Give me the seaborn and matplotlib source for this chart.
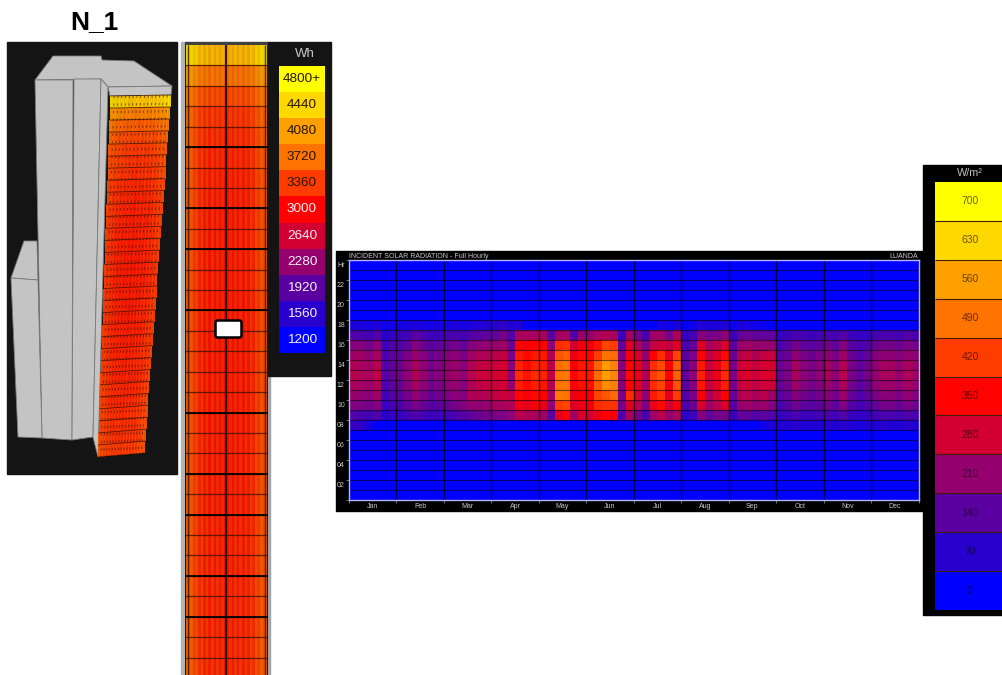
import numpy as np
import matplotlib
matplotlib.use("Agg")
import matplotlib.pyplot as plt
import seaborn as sns
from matplotlib.colors import LinearSegmentedColormap
from matplotlib.patches import FancyBboxPatch, Polygon, Rectangle

W = 1003
H = 675

months = ["Jan", "Feb", "Mar", "Apr", "May", "Jun", "Jul", "Aug", "Sep", "Oct", "Nov", "Dec"]
hour_labels = ["Hr", "22", "20", "18", "16", "14", "12", "10", "08", "06", "04", "02"]
wm2_levels = [700, 630, 560, 490, 420, 350, 280, 210, 140, 70, 0]
wh_levels = [4800, 4440, 4080, 3720, 3360, 3000, 2640, 2280, 1920, 1560, 1200]
wh_labels = ["4800+", "4440", "4080", "3720", "3360", "3000", "2640", "2280", "1920", "1560", "1200"]

# hourly radiation, 6 steps per month
hour_17 = [50, 50, 40, 50, 30, 30, 40, 40, 50, 40, 40, 40, 40, 50, 40, 50, 60, 60,
           70, 80, 60, 60, 0, 0, 0, 0, 0, 0, 0, 0, 0, 0, 0, 0, 0, 0,
           0, 0, 0, 40, 30, 50, 0, 30, 60, 50, 50, 60, 20, 50, 40, 30, 20, 0,
           0, 0, 0, 0, 0, 0, 0, 0, 0, 0, 0, 0, 0, 0, 0, 0, 0, 0]
hour_16 = [130, 120, 110, 130, 70, 90, 100, 110, 140, 120, 100, 100, 120, 120, 110, 130, 140, 150,
           150, 170, 130, 230, 230, 230, 230, 140, 220, 230, 130, 210, 210, 230, 240, 230, 100, 220,
           170, 120, 220, 220, 170, 240, 90, 110, 190, 170, 180, 200, 100, 150, 160, 150, 150, 150,
           90, 100, 120, 110, 100, 110, 120, 110, 130, 100, 90, 90, 110, 120, 120, 110, 130, 120]
hour_15 = [190, 190, 170, 200, 100, 130, 130, 150, 190, 160, 140, 150, 160, 170, 150, 190, 200, 210,
           210, 220, 160, 350, 340, 350, 350, 200, 400, 410, 280, 330, 330, 370, 430, 420, 150, 300,
           240, 180, 260, 280, 260, 300, 120, 150, 300, 230, 250, 290, 140, 210, 220, 210, 210, 210,
           120, 140, 170, 150, 140, 150, 170, 150, 190, 140, 120, 130, 160, 170, 170, 160, 180, 170]
hour_14 = [220, 220, 200, 230, 120, 150, 150, 180, 210, 190, 160, 170, 190, 200, 180, 220, 240, 240,
           250, 260, 180, 380, 360, 380, 380, 240, 450, 470, 320, 360, 360, 420, 490, 480, 180, 330,
           290, 210, 350, 400, 310, 430, 140, 180, 350, 260, 300, 360, 160, 250, 260, 240, 260, 270,
           140, 160, 200, 180, 160, 180, 200, 180, 220, 160, 130, 150, 190, 200, 200, 190, 210, 200]
hour_13 = [240, 230, 220, 250, 130, 150, 165, 195, 230, 200, 175, 185, 205, 215, 195, 240, 260, 265,
           270, 285, 195, 390, 360, 390, 385, 250, 480, 495, 340, 375, 375, 470, 550, 510, 190, 350,
           310, 230, 400, 440, 340, 460, 145, 195, 380, 270, 310, 390, 175, 270, 285, 265, 285, 285,
           155, 175, 225, 195, 175, 195, 225, 195, 245, 175, 145, 165, 205, 225, 225, 205, 235, 215]
hour_12 = [250, 240, 230, 260, 130, 160, 170, 200, 240, 210, 180, 190, 210, 220, 200, 250, 270, 270,
           280, 290, 200, 400, 370, 400, 390, 260, 490, 500, 350, 380, 380, 480, 560, 520, 200, 360,
           320, 240, 420, 450, 350, 470, 150, 200, 390, 280, 320, 400, 180, 280, 290, 270, 290, 290,
           160, 180, 230, 200, 180, 200, 230, 200, 250, 180, 150, 170, 210, 230, 230, 210, 240, 220]
hour_11 = [235, 225, 215, 240, 120, 150, 160, 190, 225, 200, 170, 180, 200, 210, 190, 240, 255, 260,
           270, 280, 210, 385, 360, 385, 375, 245, 490, 495, 340, 365, 365, 460, 530, 510, 190, 345,
           305, 225, 400, 430, 330, 450, 140, 190, 375, 265, 305, 385, 170, 265, 275, 255, 275, 275,
           150, 170, 215, 190, 170, 190, 215, 190, 235, 170, 140, 160, 200, 215, 215, 200, 225, 210]
hour_10 = [215, 205, 195, 220, 105, 135, 145, 170, 205, 180, 155, 165, 185, 195, 190, 240, 240, 245,
           260, 270, 260, 360, 340, 360, 350, 225, 500, 490, 320, 340, 340, 430, 450, 480, 180, 400,
           285, 205, 380, 410, 310, 420, 130, 175, 340, 240, 280, 350, 155, 240, 250, 235, 250, 220,
           135, 155, 190, 170, 155, 170, 195, 170, 215, 155, 125, 145, 180, 195, 195, 180, 205, 190]
hour_09 = [190, 180, 170, 190, 90, 120, 125, 150, 180, 155, 135, 145, 160, 170, 190, 210, 205, 210,
           230, 230, 240, 330, 310, 340, 320, 200, 420, 430, 300, 320, 330, 400, 410, 410, 170, 300,
           250, 180, 320, 360, 280, 340, 120, 160, 290, 220, 250, 300, 135, 210, 220, 205, 215, 190,
           115, 135, 165, 145, 135, 145, 170, 145, 185, 135, 110, 125, 155, 170, 170, 155, 180, 165]
hour_08 = [130, 120, 110, 130, 70, 90, 90, 110, 125, 110, 100, 100, 110, 120, 135, 150, 160, 170,
           180, 180, 200, 250, 240, 230, 220, 140, 310, 350, 220, 290, 280, 320, 350, 340, 130, 230,
           170, 120, 220, 250, 210, 230, 80, 100, 190, 150, 170, 170, 100, 150, 150, 130, 140, 130,
           90, 100, 120, 100, 100, 110, 120, 105, 130, 95, 85, 90, 110, 120, 120, 110, 125, 115]
hour_07 = [90, 80, 40, 0, 0, 0, 0, 0, 0, 0, 0, 0, 0, 0, 0, 0, 0, 0,
           0, 0, 0, 0, 0, 0, 0, 0, 0, 0, 0, 0, 0, 0, 0, 0, 0, 0,
           0, 0, 0, 0, 0, 0, 0, 0, 0, 0, 0, 0, 0, 0, 0, 0, 30, 50,
           60, 60, 70, 60, 60, 60, 70, 60, 70, 60, 50, 60, 60, 70, 60, 60, 70, 60]

# facade Wh, strip rows top to bottom and across the panel width
strip_rows = [4150, 3650, 3380, 3240, 3190, 3150, 3130, 3120, 3110, 3110, 3100, 3100, 3090, 3090, 3090, 3090,
              3100, 3100, 3100, 3110, 3110, 3120, 3120, 3130, 3140, 3140, 3150, 3160, 3160, 3170, 3180]
strip_cols = [500, 330, 450, 220, 330, 120, 260, 40, 200, 20, 180, 0, 160, 0, 140, 0,
              0, 140, 0, 160, 0, 180, 20, 200, 40, 260, 120, 330, 220, 450, 330, 500]
facade_rows = [4300, 3800, 3550, 3400, 3320, 3280, 3250, 3200, 3180, 3160, 3150, 3150, 3140, 3140, 3130,
               3130, 3130, 3140, 3140, 3150, 3150, 3160, 3170, 3180, 3190, 3200, 3220, 3240, 3260, 3300]

colors = ["#0000ff", "#2800cd", "#5a00a0", "#96006e", "#d20032", "#ff0000",
          "#ff3c00", "#ff7300", "#ffa000", "#ffd700", "#ffff00"]
rad_cmap = LinearSegmentedColormap.from_list("rad", colors)

sns.set_theme(style="white")
plt.rcParams["font.family"] = ["Liberation Sans", "DejaVu Sans"]

fig = plt.figure(figsize=(W / 100, H / 100), dpi=100, facecolor="white")


def pix_axes(x0, y0, x1, y1):
    # axes placed by reference pixels, y counted from the top
    return fig.add_axes([x0 / W, 1 - y1 / H, (x1 - x0) / W, (y1 - y0) / H])


bg = pix_axes(0, 0, W, H)
bg.set_xlim(0, W)
bg.set_ylim(H, 0)
bg.axis("off")

bg.text(94, 22, "N_1", fontsize=19, fontweight="bold", color="black", ha="center", va="center")

# dark panels
bg.add_patch(Rectangle((7, 42), 170, 432, color="#141414"))
bg.add_patch(Rectangle((181, 42), 4, 633, color="#b0b4b8"))
bg.add_patch(Rectangle((185, 42), 83, 3, color="#404040"))
bg.add_patch(Rectangle((268, 376), 2, 300, color="#a0a4a8"))
bg.add_patch(Rectangle((268, 42), 63, 334, color="#141414"))
bg.add_patch(Rectangle((336, 251), 587, 260, color="black"))
bg.add_patch(Rectangle((923, 165), 90, 450, color="black"))

# building model
grey = "#c4c4c4"
edge = "#7a7a7a"
faces = [
    [(35, 80), (53, 56), (101, 56), (102, 60), (134, 61), (172, 86), (108, 87), (101, 79)],
    [(35, 80), (73, 80), (72, 440), (42, 438)],
    [(74, 79), (101, 79), (93, 437), (72, 440)],
    [(101, 79), (108, 87), (98, 457), (93, 437)],
    [(108, 87), (172, 86), (171, 95), (110, 96)],
    [(24, 241), (37, 241), (38, 280), (11, 278)],
    [(11, 278), (38, 280), (42, 438), (18, 437)],
]
for pts in faces:
    bg.add_patch(Polygon(pts, closed=True, facecolor=grey, edgecolor=edge, lw=0.6))

# facade drawn as a skewed mesh
facade = np.add.outer(np.array(facade_rows), np.array(strip_cols) * 0.5)
t = np.linspace(0, 1, len(facade_rows) + 1)
s = np.linspace(0, 1, len(strip_cols) + 1)
left_x = 110.5 + (98 - 110.5) * t
right_x = 171 + (144 - 171) * t
top_y = 96 + (457 - 96) * t
bot_y = 95 + (453 - 95) * t
X = np.outer(left_x, 1 - s) + np.outer(right_x, s)
Y = np.outer(top_y, 1 - s) + np.outer(bot_y, s)
bg.pcolormesh(X, Y, facade, cmap=rad_cmap, vmin=1200, vmax=4800, alpha=0.92)
for i in range(X.shape[0]):
    bg.plot(X[i], Y[i], color="#301000", lw=0.6, alpha=0.8)
for j in range(2, X.shape[1] - 1, 2):
    bg.plot(X[:, j], Y[:, j], color="#401000", lw=0.6, ls=(0, (3, 6)), alpha=0.7)
bg.set_xlim(0, W)
bg.set_ylim(H, 0)

# unrolled facade strip
strip = np.add.outer(np.array(strip_rows), np.array(strip_cols))
ax_strip = pix_axes(185, 45, 268, 678)
ax_strip.set_facecolor("#301000")
sns.heatmap(strip, ax=ax_strip, cmap=rad_cmap, vmin=1200, vmax=4800, cbar=False, alpha=0.92,
            xticklabels=False, yticklabels=False, linewidths=0)
ax_strip.vlines([1, 31], 0, 31, color="#401000", lw=1.0, alpha=0.8)
ax_strip.vlines([0, 16, 32], 0, 31, color="#200800", lw=1.5, alpha=0.9)
ax_strip.hlines(range(1, 31), 0, 32, color="#401000", lw=0.9, alpha=0.8)
ax_strip.hlines([5, 8, 10, 13, 18, 21, 23, 26, 28], 0, 32, color="black", lw=1.4, alpha=0.9)
bg_over = pix_axes(0, 0, W, H)
bg_over.set_xlim(0, W)
bg_over.set_ylim(H, 0)
bg_over.axis("off")
bg_over.patch.set_alpha(0)
bg_over.add_patch(FancyBboxPatch((217, 322), 23, 14, boxstyle="round,pad=1.5,rounding_size=2",
                                 facecolor="white", edgecolor="black", lw=1.8))

# Wh legend
ax_wh = pix_axes(279, 66, 325, 353)
sns.heatmap(np.array(wh_levels).reshape(-1, 1), ax=ax_wh, cmap=rad_cmap, vmin=1200, vmax=4800, cbar=False,
            annot=np.array(wh_labels).reshape(-1, 1), fmt="", xticklabels=False, yticklabels=False,
            annot_kws={"fontsize": 9.7})
for i, txt in enumerate(ax_wh.texts):
    txt.set_color("#2a1500" if i < 5 else "#f4f0f4")
bg_over.text(305, 54, "Wh", fontsize=9.5, color="#c8c8c8", ha="center", va="center")

# hourly heatmap
zero_row = [0] * 72
rows = [zero_row] * 6 + [hour_17, hour_16, hour_15, hour_14, hour_13, hour_12, hour_11,
                         hour_10, hour_09, hour_08, hour_07] + [zero_row] * 7
ax = pix_axes(349, 260, 918.5, 500)
sns.heatmap(np.array(rows), ax=ax, cmap=rad_cmap, vmin=0, vmax=700, cbar=False, linewidths=0,
            xticklabels=False, yticklabels=False)
ax.hlines(range(1, 24), 0, 72, color="black", lw=0.8, alpha=0.55)
ax.vlines(range(6, 72, 6), 0, 24, color="black", lw=1.0, alpha=0.7)
for sp in ax.spines.values():
    sp.set_visible(True)
    sp.set_color("#b4b4ff")
    sp.set_linewidth(1)
ax.set_xticks(np.arange(3, 72, 6))
ax.set_xticklabels(months, fontsize=5, color="#c8c8c8")
ax.set_xticks(np.arange(0, 73, 6), minor=True)
ax.set_yticks(np.arange(0.5, 24, 2))
ax.set_yticklabels(hour_labels, fontsize=5, color="#c8c8c8", rotation=0)
ax.set_yticks(np.arange(0, 25, 2), minor=True)
ax.tick_params(axis="x", which="major", length=0, pad=2.5)
ax.tick_params(axis="y", which="major", length=0, pad=3)
ax.tick_params(which="minor", length=2, width=0.5, color="#a0a0a0", left=True, bottom=True)
bg_over.text(349, 256, "INCIDENT SOLAR RADIATION - Full Hourly", fontsize=5, color="#c8c8c8", ha="left", va="center")
bg_over.text(918, 256, "LUANDA", fontsize=5, color="#c8c8c8", ha="right", va="center")

# W/m2 legend
ax_wm = pix_axes(935, 182, W + 2, 610)
sns.heatmap(np.array(wm2_levels).reshape(-1, 1), ax=ax_wm, cmap=rad_cmap, vmin=0, vmax=700, cbar=False,
            annot=True, fmt="d", xticklabels=False, yticklabels=False, linewidths=0,
            annot_kws={"fontsize": 7.5})
ax_wm.hlines(range(1, 11), 0, 1, color="#402000", lw=0.8)
for i, txt in enumerate(ax_wm.texts):
    txt.set_color("black")
    txt.set_alpha(0.6)
bg_over.text(970, 173, "W/m\u00b2", fontsize=7.8, color="#c0c0c0", ha="center", va="center")

fig.savefig("out.png", dpi=100)
